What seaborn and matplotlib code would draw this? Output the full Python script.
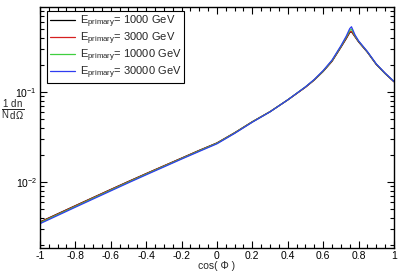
import matplotlib
matplotlib.use('Agg')
import matplotlib.pyplot as plt
import matplotlib.ticker as mticker
import pandas as pd
import seaborn as sns

# cos(Phi) sample points
cos_phi = [-1.0, -0.9, -0.8, -0.7, -0.6, -0.5, -0.4, -0.3, -0.2, -0.1,
           0.0, 0.1, 0.2, 0.3, 0.4, 0.5, 0.55, 0.6, 0.65, 0.7,
           0.73, 0.75, 0.76, 0.78, 0.8, 0.85, 0.9, 0.95, 1.0]

dist_1000 = [0.0036, 0.00444, 0.00547, 0.00673, 0.00828, 0.01016, 0.01242,
             0.01514, 0.01845, 0.0225, 0.0272, 0.0353, 0.0468, 0.0605, 0.0817,
             0.113, 0.136, 0.169, 0.219, 0.313, 0.39, 0.457, 0.467, 0.41,
             0.36, 0.276, 0.202, 0.16, 0.13]
dist_3000 = [0.00358, 0.00441, 0.00544, 0.0067, 0.00824, 0.01011, 0.01237,
             0.0151, 0.01838, 0.0224, 0.0271, 0.0352, 0.0467, 0.0605, 0.0817,
             0.113, 0.136, 0.17, 0.22, 0.315, 0.395, 0.462, 0.472, 0.412,
             0.362, 0.277, 0.203, 0.161, 0.13]
dist_10000 = [0.00352, 0.00434, 0.00535, 0.0066, 0.00812, 0.00998, 0.01222,
              0.01492, 0.0182, 0.0222, 0.0269, 0.035, 0.0465, 0.0604, 0.0818,
              0.114, 0.137, 0.171, 0.223, 0.32, 0.405, 0.48, 0.5, 0.42,
              0.366, 0.279, 0.204, 0.161, 0.131]
dist_30000 = [0.00345, 0.00426, 0.00526, 0.00648, 0.00798, 0.00982, 0.01204,
              0.01472, 0.018, 0.0219, 0.0266, 0.0347, 0.0462, 0.0602, 0.0818,
              0.114, 0.138, 0.173, 0.226, 0.325, 0.415, 0.505, 0.53, 0.43,
              0.37, 0.281, 0.205, 0.162, 0.131]

energies = ['1000', '3000', '10000', '30000']
colors = ['black', '#d62020', '#3fcf3f', '#2f3cf0']

series = [dist_1000, dist_3000, dist_10000, dist_30000]
frames = []
for e, vals in zip(energies, series):
    frames.append(pd.DataFrame({'cos': cos_phi, 'val': vals,
                                'E': r'E$_{\mathregular{primary}}$= ' + e + ' GeV'}))
df = pd.concat(frames, ignore_index=True)

sns.set_style('ticks')
plt.rcParams['font.family'] = ['Liberation Sans', 'DejaVu Sans']
plt.rcParams['mathtext.default'] = 'regular'

fig = plt.figure(figsize=(4.07, 2.76), dpi=100)
ax = fig.add_axes([0.098, 0.101, 0.870, 0.874])

sns.lineplot(data=df, x='cos', y='val', hue='E', palette=colors,
             linewidth=0.9, sort=False, ax=ax)

ax.set_yscale('log')
ax.set_xlim(-1, 1)
ax.set_ylim(0.00185, 0.88)

ax.xaxis.set_major_locator(mticker.MultipleLocator(0.2))
ax.xaxis.set_minor_locator(mticker.MultipleLocator(0.05))
ax.xaxis.set_major_formatter(mticker.FuncFormatter(
    lambda v, p: '0' if abs(v) < 1e-9 else ('%g' % v)))
ax.yaxis.set_major_locator(mticker.FixedLocator([0.01, 0.1]))
ax.yaxis.set_major_formatter(mticker.FixedFormatter(['10$^{-2}$', '10$^{-1}$']))
ax.yaxis.set_minor_locator(mticker.LogLocator(base=10, subs=range(2, 10)))
ax.yaxis.set_minor_formatter(mticker.NullFormatter())

ax.tick_params(which='both', direction='in', top=True, right=True,
               labelsize=7.5, width=0.8, colors='black', pad=2)
ax.tick_params(which='major', length=5)
ax.tick_params(which='minor', length=3)
for s in ax.spines.values():
    s.set_linewidth(1.0)
    s.set_color('black')

ax.set_xlabel('cos( Φ )', fontsize=7.5, labelpad=0)
ax.set_ylabel(r'$\frac{1}{N}\frac{dn}{d\Omega}$', fontsize=10,
              rotation=0, ha='center', va='center')
ax.yaxis.set_label_coords(-0.077, 0.573)

leg = ax.legend(loc='upper left', bbox_to_anchor=(0.02, 0.985),
                borderaxespad=0, fontsize=8, handlelength=2.3,
                handletextpad=0.4, labelspacing=0.05, borderpad=0.25,
                fancybox=False, framealpha=1)
leg.get_frame().set_edgecolor('black')
leg.get_frame().set_linewidth(0.8)
leg.set_title(None)

fig.savefig('out.png', dpi=100)
